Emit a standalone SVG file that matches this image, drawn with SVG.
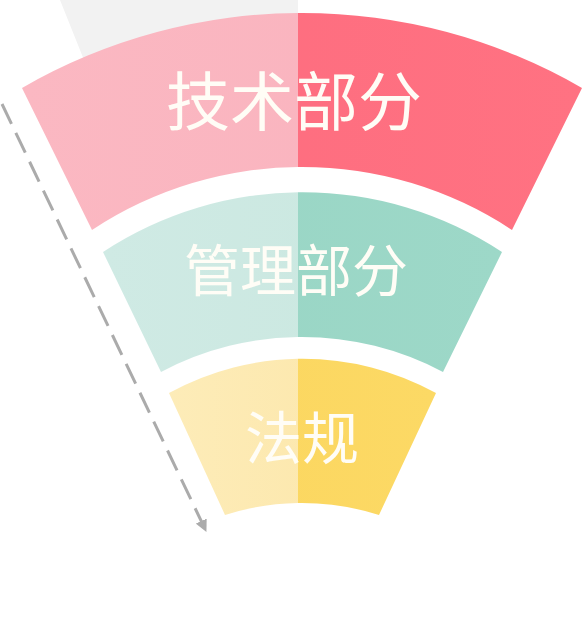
<svg xmlns="http://www.w3.org/2000/svg" width="583" height="636" viewBox="0 0 583 636">
  <style>
    .lbl { font-family: "Noto Sans CJK SC", "Noto Sans", sans-serif; font-weight: 400; fill: #fffdf6; text-anchor: middle; }
    .dash { fill: none; stroke: #ababab; stroke-width: 3; stroke-dasharray: 22 10; }
  </style>
  <defs>
    <clipPath id="leftHalf"><rect x="0" y="0" width="298" height="636"/></clipPath>
    <clipPath id="rightHalf"><rect x="298" y="0" width="285" height="636"/></clipPath>
    <linearGradient id="pinkL" x1="0" y1="0" x2="1" y2="0">
      <stop offset="0" stop-color="#fbb8c2"/><stop offset="1" stop-color="#f9b2bd"/>
    </linearGradient>
    <linearGradient id="pinkR" x1="0" y1="0" x2="1" y2="0">
      <stop offset="0" stop-color="#fd6b7e"/><stop offset="1" stop-color="#ff7282"/>
    </linearGradient>
    <linearGradient id="tealL" x1="0" y1="0" x2="1" y2="0">
      <stop offset="0" stop-color="#cfeae4"/><stop offset="1" stop-color="#c9e7df"/>
    </linearGradient>
    <linearGradient id="tealR" x1="0" y1="0" x2="1" y2="0">
      <stop offset="0" stop-color="#98d5c4"/><stop offset="1" stop-color="#9dd8c8"/>
    </linearGradient>
    <linearGradient id="yelL" x1="0" y1="0" x2="1" y2="0">
      <stop offset="0" stop-color="#fdecb8"/><stop offset="1" stop-color="#fce5a6"/>
    </linearGradient>
    <linearGradient id="yelR" x1="0" y1="0" x2="1" y2="0">
      <stop offset="0" stop-color="#fbd65e"/><stop offset="1" stop-color="#fcd965"/>
    </linearGradient>
    <path id="secTech" d="M22,88 A560,560 0 0 1 582,88 L512,230 A381,381 0 0 0 92,230 Z"/>
    <path id="secMgmt" d="M103,252 A363,363 0 0 1 502,252 L443,372 A301,301 0 0 0 161,372 Z"/>
    <path id="secLaw" d="M169,393 A277,277 0 0 1 436,393 L379,515 A253,253 0 0 0 225,515 Z"/>
    <marker id="arrow" markerWidth="12" markerHeight="12" refX="11" refY="6" orient="auto" markerUnits="userSpaceOnUse">
      <path d="M0,0 L12,6 L0,12 Z" fill="#ababab"/>
    </marker>
  </defs>

  <polygon id="backdrop" points="60,0 298,0 298,40 92,80" fill="#f2f2f2"/>

  <g id="connectors">
    <path class="dash" d="M2,104 L206,531" marker-end="url(#arrow)"/>
  </g>

  <g id="node-tech">
    <use href="#secTech" fill="url(#pinkL)" clip-path="url(#leftHalf)"/>
    <use href="#secTech" fill="url(#pinkR)" clip-path="url(#rightHalf)"/>
    <text class="lbl" x="294" y="125" font-size="64">技术部分</text>
  </g>

  <g id="node-mgmt">
    <use href="#secMgmt" fill="url(#tealL)" clip-path="url(#leftHalf)"/>
    <use href="#secMgmt" fill="url(#tealR)" clip-path="url(#rightHalf)"/>
    <text class="lbl" x="296" y="291" font-size="56">管理部分</text>
  </g>

  <g id="node-law">
    <use href="#secLaw" fill="url(#yelL)" clip-path="url(#leftHalf)"/>
    <use href="#secLaw" fill="url(#yelR)" clip-path="url(#rightHalf)"/>
    <text class="lbl" x="302" y="459" font-size="57">法规</text>
  </g>
</svg>
